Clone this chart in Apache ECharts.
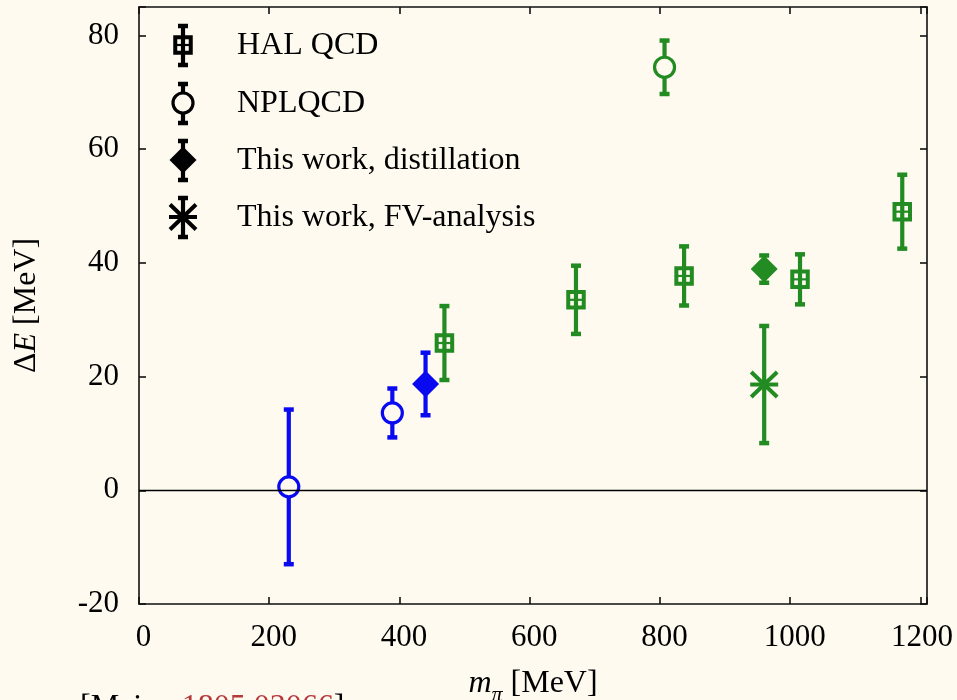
<!DOCTYPE html>
<html>
<head>
<meta charset="utf-8">
<script src="https://cdn.jsdelivr.net/npm/echarts@6/dist/echarts.min.js"></script>
<style>
html,body{margin:0;padding:0;background:#fefaf0;}
#c{width:957px;height:700px;}
</style>
</head>
<body>
<div id="c"></div>
<script>
// ---- data (m_pi [MeV], Delta E [MeV], error) ----
const halqcdMpi = [469, 671, 837, 1015, 1172];
const halqcdDE  = [25.9, 33.5, 37.7, 37.1, 49.0];
const halqcdErr = [6.5, 6.0, 5.2, 4.4, 6.5];

const npBlueMpi = [230, 389];
const npBlueDE  = [0.6, 13.6];
const npBlueErr = [13.6, 4.3];
const npGreenMpi = [807];
const npGreenDE  = [74.4];
const npGreenErr = [4.7];

const distBlueMpi = [440];
const distBlueDE  = [18.7];
const distBlueErr = [5.5];
const distGreenMpi = [960];
const distGreenDE  = [38.9];
const distGreenErr = [2.4];

const fvMpi = [960];
const fvDE  = [18.6];
const fvErr = [10.3];

const xTicks = [0, 200, 400, 600, 800, 1000, 1200];
const yTicks = [-20, 0, 20, 40, 60, 80];
const legendNames = ['HAL QCD', 'NPLQCD', 'This work, distillation', 'This work, FV-analysis'];

// ---- styles ----
const BG = '#fefaf0';
const BLUE = '#0a0af0';
const GREEN = '#228b22';
const FONT = '"Liberation Serif", "Times New Roman", serif';

function zip(a, b, c) { return a.map((v, i) => [v, b[i], c[i]]); }

function markerShapes(shape, cx, cy, color) {
  const out = [];
  if (shape === 'square') {
    out.push({type: 'rect', shape: {x: cx - 7.75, y: cy - 7.75, width: 15.5, height: 15.5},
      style: {fill: 'none', stroke: color, lineWidth: 4}});
    out.push({type: 'line', shape: {x1: cx - 7.75, y1: cy, x2: cx + 7.75, y2: cy},
      style: {stroke: color, lineWidth: 2.2}});
  } else if (shape === 'circle') {
    out.push({type: 'circle', shape: {cx: cx, cy: cy, r: 10},
      style: {fill: BG, stroke: color, lineWidth: 3.2}});
  } else if (shape === 'diamond') {
    out.push({type: 'polygon', shape: {points: [[cx, cy - 13.5], [cx + 13.5, cy], [cx, cy + 13.5], [cx - 13.5, cy]]},
      style: {fill: color}});
  } else if (shape === 'star') {
    out.push({type: 'line', shape: {x1: cx - 14, y1: cy, x2: cx + 14, y2: cy}, style: {stroke: color, lineWidth: 4}});
    out.push({type: 'line', shape: {x1: cx - 13, y1: cy - 12.5, x2: cx + 13, y2: cy + 12.5}, style: {stroke: color, lineWidth: 4}});
    out.push({type: 'line', shape: {x1: cx - 13, y1: cy + 12.5, x2: cx + 13, y2: cy - 12.5}, style: {stroke: color, lineWidth: 4}});
  }
  return out;
}

function errBar(cx, yTop, yBot, color) {
  return [
    {type: 'line', shape: {x1: cx, y1: yTop, x2: cx, y2: yBot}, style: {stroke: color, lineWidth: 4.2}},
    {type: 'line', shape: {x1: cx - 5, y1: yTop, x2: cx + 5, y2: yTop}, style: {stroke: color, lineWidth: 4.5}},
    {type: 'line', shape: {x1: cx - 5, y1: yBot, x2: cx + 5, y2: yBot}, style: {stroke: color, lineWidth: 4.5}}
  ];
}

function makeRender(shape, color) {
  return function (params, api) {
    const x = api.value(0), y = api.value(1), e = api.value(2);
    const c = api.coord([x, y]);
    const t = api.coord([x, y + e]);
    const b = api.coord([x, y - e]);
    return {type: 'group', children: errBar(c[0], t[1], b[1], color).concat(markerShapes(shape, c[0], c[1], color))};
  };
}

function customSeries(name, shape, color, data, extra) {
  return Object.assign({
    name: name, type: 'custom', xAxisIndex: 0, yAxisIndex: 0,
    renderItem: makeRender(shape, color),
    encode: {x: 0, y: [1, 2]},
    data: data, silent: true, animation: false, z: 3
  }, extra || {});
}

// legend drawn as graphic elements (black icons)
const legendShapes = ['square', 'circle', 'diamond', 'star'];
const legendRowY = [45, 103, 160, 217];
const legendGraphics = [];
legendNames.forEach((n, i) => {
  const cx = 183, cy = legendRowY[i];
  legendGraphics.push({
    type: 'group', silent: true,
    children: errBar(cx, cy - 19, cy + 20, '#000').concat(markerShapes(legendShapes[i], cx, cy, '#000'))
  });
  legendGraphics.push({
    type: 'text', left: 237, top: cy - 15,
    style: {text: n, font: '32px ' + FONT, fill: '#000'}
  });
});
legendGraphics.push({
  type: 'text', left: 80, top: 692,
  style: {
    text: '[Meier, {r|1805.03066}]',
    font: '32px ' + FONT, fill: '#000',
    rich: {r: {fill: '#b8393a', fontSize: 32, fontFamily: FONT}}
  }
});

const axisLineStyle = {color: '#111', width: 1.6};
const tickFmtX = v => {
  if (xTicks.indexOf(v) < 0) return '';
  return v === xTicks[xTicks.length - 1] ? '{e|' + v + '}' : '{p|' + v + '}';
};
const tickFmtY = v => (yTicks.indexOf(v) >= 0 ? String(v) : '');

const option = {
  backgroundColor: BG,
  animation: false,
  grid: {left: 139, top: 7, right: 30, bottom: 96, containLabel: false, outerBoundsMode: 'none'},
  xAxis: [{
    type: 'value', min: 0, max: 1210, interval: 200, position: 'bottom',
    name: '{i|m}{s|π}{n| [MeV]}', nameLocation: 'middle', nameGap: 64,
    nameTextStyle: {
      rich: {
        i: {fontFamily: FONT, fontSize: 32, fontStyle: 'italic', verticalAlign: 'bottom', padding: [0, 0, 6, 0], color: '#000'},
        s: {fontFamily: FONT, fontSize: 22, fontStyle: 'italic', verticalAlign: 'bottom', color: '#000'},
        n: {fontFamily: FONT, fontSize: 32, verticalAlign: 'bottom', padding: [0, 0, 6, 0], color: '#000'}
      }
    },
    axisLine: {show: true, onZero: false, lineStyle: axisLineStyle},
    axisTick: {show: true, inside: true, length: 7, lineStyle: axisLineStyle},
    splitLine: {show: false},
    axisLabel: {
      formatter: tickFmtX, fontFamily: FONT, fontSize: 31, color: '#000', margin: 18, showMaxLabel: true,
      rich: {
        p: {fontFamily: FONT, fontSize: 31, color: '#000', padding: [0, 0, 0, 9]},
        e: {fontFamily: FONT, fontSize: 31, color: '#000', padding: [0, 0, 0, 3]}
      }
    }
  }, {
    type: 'value', min: 0, max: 1210, interval: 200, position: 'top',
    axisLine: {show: true, onZero: false, lineStyle: axisLineStyle},
    axisTick: {show: true, inside: true, length: 7, lineStyle: axisLineStyle},
    splitLine: {show: false}, axisLabel: {show: false}
  }],
  yAxis: [{
    type: 'value', min: -20, max: 85, interval: 20, position: 'left',
    name: '{n|Δ}{i|E}{n| [MeV]}', nameLocation: 'middle', nameGap: 96, nameRotate: 90,
    nameTextStyle: {
      rich: {
        i: {fontFamily: FONT, fontSize: 32, fontStyle: 'italic', color: '#000'},
        n: {fontFamily: FONT, fontSize: 32, color: '#000'}
      }
    },
    axisLine: {show: true, onZero: false, lineStyle: axisLineStyle},
    axisTick: {show: true, inside: true, length: 7, lineStyle: axisLineStyle},
    splitLine: {show: false},
    axisLabel: {formatter: tickFmtY, fontFamily: FONT, fontSize: 31, color: '#000', margin: 20}
  }, {
    type: 'value', min: -20, max: 85, interval: 20, position: 'right',
    axisLine: {show: true, onZero: false, lineStyle: axisLineStyle},
    axisTick: {show: true, inside: true, length: 7, lineStyle: axisLineStyle},
    splitLine: {show: false}, axisLabel: {show: false}
  }],
  graphic: legendGraphics,
  series: [
    customSeries('HAL QCD', 'square', GREEN, zip(halqcdMpi, halqcdDE, halqcdErr), {
      markLine: {
        silent: true, symbol: 'none', animation: false,
        label: {show: false},
        lineStyle: {color: '#000', width: 1.3, type: 'solid'},
        data: [{yAxis: 0}]
      }
    }),
    customSeries('NPLQCD', 'circle', BLUE, zip(npBlueMpi, npBlueDE, npBlueErr)),
    customSeries('NPLQCD', 'circle', GREEN, zip(npGreenMpi, npGreenDE, npGreenErr)),
    customSeries('This work, distillation', 'diamond', BLUE, zip(distBlueMpi, distBlueDE, distBlueErr)),
    customSeries('This work, distillation', 'diamond', GREEN, zip(distGreenMpi, distGreenDE, distGreenErr)),
    customSeries('This work, FV-analysis', 'star', GREEN, zip(fvMpi, fvDE, fvErr))
  ]
};

const chart = echarts.init(document.getElementById('c'), null, {renderer: 'canvas'});
chart.setOption(option);
</script>
</body>
</html>
